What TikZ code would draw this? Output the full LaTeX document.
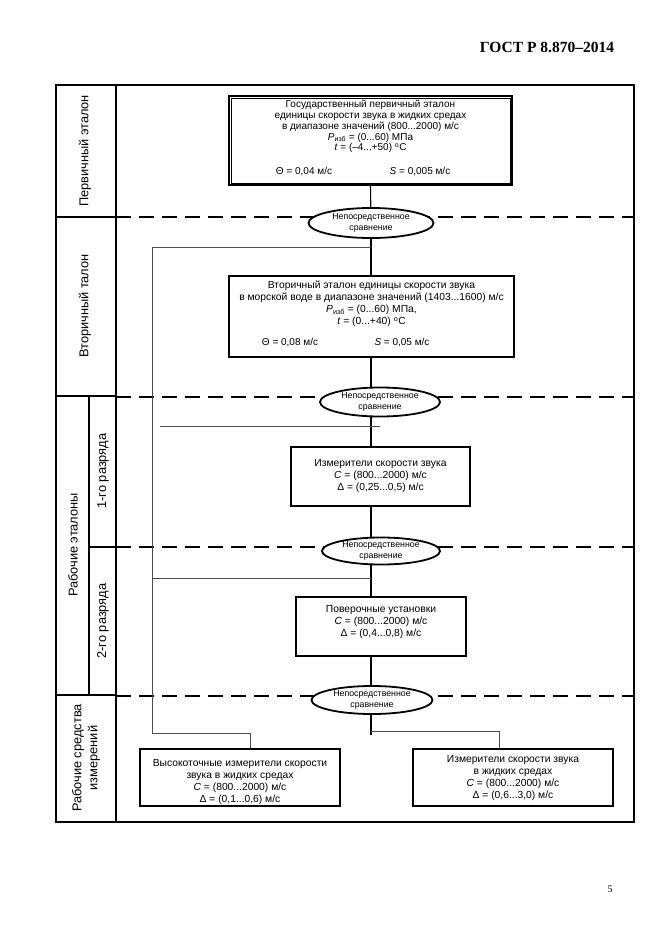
\documentclass[tikz,border=0pt]{standalone}
\usepackage{fontspec}
\setmainfont{Liberation Sans}
\newfontfamily\serifb{Liberation Serif}
\usetikzlibrary{shapes.geometric}
\pgfdeclarelayer{bg}
\pgfsetlayers{bg,main}
\begin{document}
\begin{tikzpicture}[x=1pt,y=-1pt,
  bx/.style={draw, line width=1.8pt, fill=white, inner sep=0pt},
  txt/.style={align=center, anchor=north, inner sep=0pt, font=\fontsize{10.3}{12}\selectfont},
  txtone/.style={align=center, anchor=north, inner sep=0pt, font=\fontsize{10}{10.8}\selectfont},
  sm/.style={inner sep=0pt, font=\fontsize{10}{11}\selectfont},
  ell/.style={ellipse, draw, line width=1.8pt, fill=white, inner sep=0pt, align=center, font=\fontsize{8.8}{11}\selectfont},
  conn/.style={line width=1.1pt},
  thinl/.style={line width=0.6pt, black!70},
  dashl/.style={line width=1.5pt, dash pattern=on 15pt off 8pt},
  frame/.style={line width=1.2pt},
  lab/.style={rotate=90, inner sep=0pt, align=center, font=\fontsize{12.8}{16}\selectfont}]
\useasboundingbox (0,0) rectangle (661,935);
\begin{pgfonlayer}{bg}
\fill[white] (0,0) rectangle (661,935);
\end{pgfonlayer}

% header and page number
\node[font=\serifb\bfseries\fontsize{15.5}{18}\selectfont, inner sep=0pt] (hdr) at (547,47) {ГОСТ Р 8.870–2014};
\node[font=\serifb\fontsize{10}{12}\selectfont, inner sep=0pt] (pg) at (610,889) {5};

% frame
\draw[frame] (56,85) rectangle (634,822);
\draw[frame] (116,85) -- (116,822);
\draw[frame] (56,217) -- (116,217);
\draw[frame] (56,396) -- (116,396);
\draw[frame] (89,547) -- (116,547);
\draw[frame] (56,695) -- (116,695);
\draw[frame] (89,396) -- (89,695);

% labels
\node[lab] (l1) at (85,151) {Первичный эталон};
\node[lab] (l2) at (85,306) {Вторичный талон};
\node[lab] (l3) at (73,545) {Рабочие эталоны};
\node[lab] (l4) at (103,471) {1-го разряда};
\node[lab] (l5) at (103,621) {2-го разряда};
\node[lab] (l6) at (86,758) {Рабочие средства\\измерений};

% boxes
\node[bx, minimum width=283pt, minimum height=89pt] (b1) at (370.5,140.5) {};
\draw[line width=0.8pt] ([shift={(3,3)}]b1.north west) rectangle ([shift={(-3,-3)}]b1.south east);
\node[txtone] (t1) at (370.5,100) {Государственный первичный эталон\\единицы скорости звука в жидких средах\\в диапазоне значений (800...2000) м/с\\\textit{P}\textsubscript{изб} = (0...60) МПа\\\textit{t} = (–4...+50) \textsuperscript{o}C};
\node[sm] (t1a) at (304,172) {Θ = 0,04 м/с};
\node[sm] (t1b) at (420,172) {\textit{S} = 0,005 м/с};

\node[bx, minimum width=285pt, minimum height=81pt] (b2) at (371.5,316.5) {};
\node[txt] (t2) at (371.5,281) {Вторичный эталон единицы скорости звука\\в морской воде в диапазоне значений (1403...1600) м/с\\\textit{P}\textsubscript{изб} = (0...60) МПа,\\\textit{t} = (0...+40) \textsuperscript{o}C};
\node[sm] (t2a) at (290,343) {Θ = 0,08 м/с};
\node[sm] (t2b) at (402,343) {\textit{S} = 0,05 м/с};

\node[bx, minimum width=179pt, minimum height=59pt] (b3) at (380.5,476.5) {};
\node[txt] (t3) at (380.5,459) {Измерители скорости звука\\\textit{C} = (800...2000) м/с\\Δ = (0,25...0,5) м/с};

\node[bx, minimum width=170pt, minimum height=59pt] (b4) at (381,626.5) {};
\node[txt] (t4) at (381,605) {Поверочные установки\\\textit{C} = (800...2000) м/с\\Δ = (0,4...0,8) м/с};

\node[bx, minimum width=200pt, minimum height=57pt] (b5) at (240,777.5) {};
\node[txt] (t5) at (240,759) {Высокоточные измерители скорости\\звука в жидких средах\\\textit{C} = (800...2000) м/с\\Δ = (0,1...0,6) м/с};

\node[bx, minimum width=200pt, minimum height=57pt] (b6) at (513,777.5) {};
\node[txt] (t6) at (513,755) {Измерители скорости звука\\в жидких средах\\\textit{C} = (800...2000) м/с\\Δ = (0,6...3,0) м/с};

% ellipses
\node[ell, minimum width=125pt, minimum height=30pt] (e1) at (371,223) {Непосредственное\\сравнение};
\node[ell, minimum width=120pt, minimum height=29pt] (e2) at (380,402) {Непосредственное\\сравнение};
\node[ell, minimum width=118pt, minimum height=27pt] (e3) at (381,551) {Непосредственное\\сравнение};
\node[ell, minimum width=121pt, minimum height=28pt] (e4) at (372,700) {Непосредственное\\сравнение};

% helper coordinates
\coordinate (j1) at (371,247);
\coordinate (c1) at (152,247);
\coordinate (c2) at (152,733);
\coordinate (k5) at (250,733);
\coordinate (h1a) at (160,426);
\coordinate (h1b) at (380,426);
\coordinate (h2a) at (152,578);
\coordinate (h2b) at (371,578);
\coordinate (r1) at (371,731);
\coordinate (r1e) at (371,735);
\coordinate (k6) at (499,731);

\begin{pgfonlayer}{bg}
\draw[dashl] (116,217) -- (634,217);
\draw[dashl] (116,397) -- (634,397);
\draw[dashl] (116,547) -- (634,547);
\draw[dashl] (116,696) -- (634,696);

\draw[conn] (b1.south) -- (e1.center);
\draw[conn] (e1.center) -- (b2.north -| e1.center);
\draw[conn] (b2.south -| j1) -- (e2.center -| j1);
\draw[conn] (e2.center -| j1) -- (b3.north -| j1);
\draw[conn] (b3.south -| j1) -- (e3.center -| j1);
\draw[conn] (e3.center -| j1) -- (b4.north -| j1);
\draw[conn] (b4.south -| j1) -- (e4.center -| j1);
\draw[conn] (e4.center -| j1) -- (r1e);
\draw[thinl] (r1) -- (k6) -- (k6 |- b6.north);
\draw[thinl] (j1) -- (c1) -- (c2) -- (k5) -- (k5 |- b5.north);
\draw[thinl] (h1a) -- (h1b);
\draw[thinl] (h2a) -- (h2b);
\end{pgfonlayer}
\end{tikzpicture}
\end{document}
